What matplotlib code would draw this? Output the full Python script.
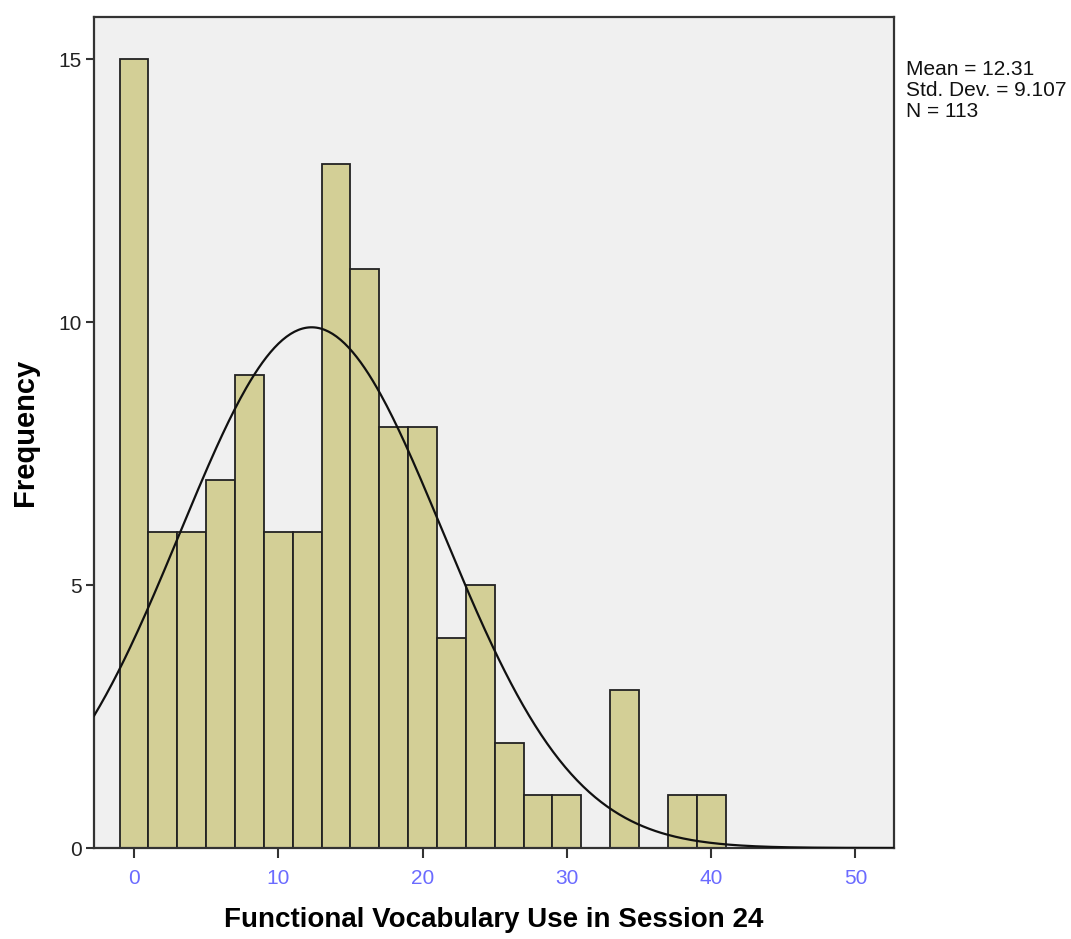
import numpy as np
import matplotlib.pyplot as plt

# histogram bins (width 2, centred on even values) and counts
bin_centers = np.arange(0, 42, 2)
counts = [15, 6, 6, 7, 9, 6, 6, 13, 11, 8, 8, 4, 5, 2, 1, 1, 0, 3, 0, 1, 1]
mean_val = 12.31
std_val = 9.107
n_val = 113
bin_width = 2

plt.rcParams['font.family'] = ['Liberation Sans', 'DejaVu Sans']

fig = plt.figure(figsize=(10.71, 9.39), dpi=100)
ax = fig.add_axes([0.0878, 0.0969, 0.7469, 0.885])
ax.set_facecolor('#f0f0f0')

ax.bar(bin_centers, counts, width=bin_width, color='#d3cf96',
       edgecolor='#222222', linewidth=1.3, zorder=2)

# normal curve scaled to the histogram
xs = np.linspace(-2.77, 52.67, 400)
ys = n_val * bin_width / (std_val * np.sqrt(2 * np.pi)) * np.exp(-0.5 * ((xs - mean_val) / std_val) ** 2)
ax.plot(xs, ys, color='#111111', linewidth=1.6, zorder=3)

ax.set_xlim(-2.77, 52.67)
ax.set_ylim(0, 15.8)
ax.set_xticks([0, 10, 20, 30, 40, 50])
ax.set_yticks([0, 5, 10, 15])
ax.tick_params(axis='x', colors='#333333', labelcolor='#6b6bff', labelsize=15,
               length=7, width=1.5, direction='out', pad=8)
ax.tick_params(axis='y', colors='#333333', labelcolor='#222222', labelsize=15,
               length=6, width=1.5, direction='out', pad=3)
for s in ax.spines.values():
    s.set_color('#333333')
    s.set_linewidth(1.6)

ax.set_xlabel('Functional Vocabulary Use in Session 24', fontsize=20,
              fontweight='bold', labelpad=14)
ax.set_ylabel('Frequency', fontsize=21, fontweight='bold', labelpad=14)

fig.text(0.846, 0.936, f'Mean = {mean_val}\nStd. Dev. = {std_val}\nN = {n_val}',
         fontsize=15, va='top', ha='left', linespacing=1.12, color='#111111')

fig.savefig('out.png', dpi=100)
